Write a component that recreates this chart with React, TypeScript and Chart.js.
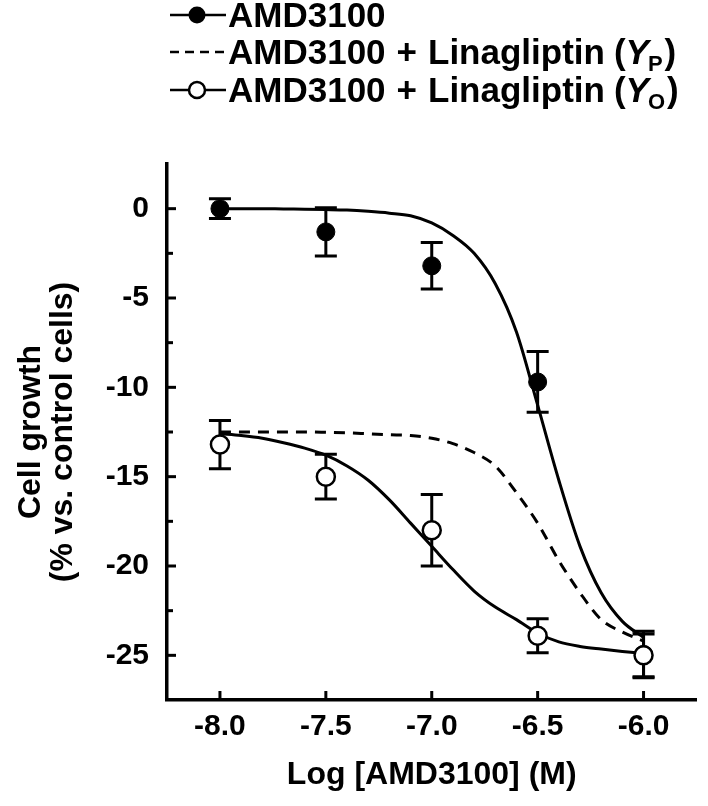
import React, { useEffect, useRef } from "react";
import { Chart, registerables } from "chart.js";

Chart.register(...registerables);

// Measured points (mean ± SEM)
const doseX = [-8.0, -7.5, -7.0, -6.5, -6.0];
const amdMean = [0, -1.3, -3.2, -9.7, -24.95];
const amdErr = [0.55, 1.35, 1.3, 1.7, 1.3];
const comboMean = [-13.2, -15.0, -18.0, -23.9, -25.0];
const comboErr = [1.35, 1.25, 2.0, 0.95, 1.2];

// Fitted curves
const curveX = [-8.0, -7.9, -7.8, -7.7, -7.6, -7.5, -7.4, -7.3, -7.2, -7.1, -7.0, -6.9, -6.8, -6.7, -6.6, -6.5, -6.4, -6.3, -6.2, -6.1, -6.0];
const amdFit = [0, 0, 0, -0.02, -0.03, -0.05, -0.08, -0.15, -0.25, -0.4, -0.8, -1.5, -2.5, -4.2, -6.9, -11.0, -15.2, -18.9, -21.5, -23.1, -24.0];
const predictedFit = [-12.5, -12.5, -12.5, -12.5, -12.5, -12.52, -12.55, -12.6, -12.65, -12.7, -12.85, -13.15, -13.65, -14.4, -15.9, -17.6, -19.7, -21.5, -23.0, -23.7, -24.2];
const observedFit = [-12.6, -12.7, -12.85, -13.1, -13.4, -13.8, -14.4, -15.2, -16.3, -17.6, -18.9, -20.2, -21.4, -22.3, -23.0, -23.75, -24.25, -24.5, -24.65, -24.78, -24.9];

const xTicks = [-8.0, -7.5, -7.0, -6.5, -6.0];
const yTicks = [0, -5, -10, -15, -20, -25];
const yMinorTicks = [-2.5, -7.5, -12.5, -17.5, -22.5];

const xTitle = "Log [AMD3100] (M)";
const yTitle = ["Cell growth", "(% vs. control cells)"];
const legendMain = "AMD3100";
const legendWords = ["AMD3100", "+", "Linagliptin", "("];
const legendSubs = ["P", "O"];

const FONT = '"Liberation Sans", Arial, Helvetica, sans-serif';

const errorBarPlugin = {
  id: "errorBars",
  beforeDatasetsDraw(chart: any) {
    const ctx = chart.ctx;
    const xs = chart.scales.x;
    const ys = chart.scales.y;
    const { left, bottom } = chart.chartArea;
    ctx.save();
    ctx.strokeStyle = "#000";
    ctx.lineWidth = 3;
    // inward tick marks
    yTicks.forEach((v) => {
      const py = ys.getPixelForValue(v);
      ctx.beginPath();
      ctx.moveTo(left, py);
      ctx.lineTo(left + 9, py);
      ctx.stroke();
    });
    yMinorTicks.forEach((v) => {
      const py = ys.getPixelForValue(v);
      ctx.beginPath();
      ctx.moveTo(left, py);
      ctx.lineTo(left + 6, py);
      ctx.stroke();
    });
    xTicks.forEach((v) => {
      const px = xs.getPixelForValue(v);
      ctx.beginPath();
      ctx.moveTo(px, bottom);
      ctx.lineTo(px, bottom - 9);
      ctx.stroke();
    });
    // error bars
    const drawSet = (means: number[], errs: number[]) => {
      means.forEach((m, i) => {
        const px = xs.getPixelForValue(doseX[i]);
        const pt = ys.getPixelForValue(m + errs[i]);
        const pb = ys.getPixelForValue(m - errs[i]);
        ctx.beginPath();
        ctx.moveTo(px, pt);
        ctx.lineTo(px, pb);
        ctx.moveTo(px - 11, pt);
        ctx.lineTo(px + 11, pt);
        ctx.moveTo(px - 11, pb);
        ctx.lineTo(px + 11, pb);
        ctx.stroke();
      });
    };
    drawSet(amdMean, amdErr);
    drawSet(comboMean, comboErr);
    ctx.restore();
  },
};

const legendPlugin = {
  id: "customLegend",
  afterDraw(chart: any) {
    const ctx = chart.ctx;
    ctx.save();
    ctx.strokeStyle = "#000";
    ctx.fillStyle = "#000";
    ctx.lineWidth = 2.5;
    const x0 = 170;
    const x1 = 226;
    const xm = 197;
    const tx = 228;
    const rows = [15, 52, 90];
    const big = `bold 35px ${FONT}`;
    const bigItalic = `italic bold 35px ${FONT}`;
    const small = `bold 22px ${FONT}`;

    // row 1
    ctx.beginPath();
    ctx.moveTo(x0, rows[0]);
    ctx.lineTo(x1, rows[0]);
    ctx.stroke();
    ctx.beginPath();
    ctx.arc(xm, rows[0], 8.5, 0, Math.PI * 2);
    ctx.fill();

    // row 2 dashed
    ctx.setLineDash([9, 6]);
    ctx.beginPath();
    ctx.moveTo(x0, rows[1]);
    ctx.lineTo(x1, rows[1]);
    ctx.stroke();
    ctx.setLineDash([]);

    // row 3 open marker
    ctx.beginPath();
    ctx.moveTo(x0, rows[2]);
    ctx.lineTo(x1, rows[2]);
    ctx.stroke();
    ctx.beginPath();
    ctx.arc(xm, rows[2], 8, 0, Math.PI * 2);
    ctx.fillStyle = "#fff";
    ctx.fill();
    ctx.stroke();
    ctx.fillStyle = "#000";

    ctx.textBaseline = "alphabetic";
    ctx.textAlign = "left";
    const base = (c: number) => c + 12;

    ctx.font = big;
    ctx.fillText(legendMain, tx, base(rows[0]));

    const gaps = [11, 11, 9];
    const drawCombo = (c: number, sub: string) => {
      let x = tx;
      ctx.font = big;
      legendWords.forEach((w, i) => {
        ctx.fillText(w, x, base(c));
        x += ctx.measureText(w).width;
        if (i < gaps.length) x += gaps[i];
      });
      ctx.font = bigItalic;
      ctx.fillText("Y", x, base(c));
      x += ctx.measureText("Y").width - 1;
      ctx.font = small;
      ctx.fillText(sub, x, base(c) + 7);
      x += ctx.measureText(sub).width + 2;
      ctx.font = big;
      ctx.fillText(")", x, base(c));
    };
    drawCombo(rows[1], legendSubs[0]);
    drawCombo(rows[2], legendSubs[1]);
    ctx.restore();
  },
};

export default function App() {
  const canvasRef = useRef<HTMLCanvasElement | null>(null);

  useEffect(() => {
    const canvas = canvasRef.current;
    if (!canvas) return;
    const pts = (xs: number[], ys: number[]) => xs.map((x, i) => ({ x, y: ys[i] }));
    const tickFont = { family: FONT, size: 30, weight: "bold" as const };
    const titleFont = { family: FONT, size: 32, weight: "bold" as const };

    const chart = new Chart(canvas, {
      type: "line",
      data: {
        datasets: [
          {
            label: "AMD3100",
            data: pts(doseX, amdMean),
            showLine: false,
            pointRadius: 9,
            pointBackgroundColor: "#000",
            pointBorderColor: "#000",
            pointBorderWidth: 1,
            order: 1,
          },
          {
            label: "AMD3100 + Linagliptin (Yo)",
            data: pts(doseX, comboMean),
            showLine: false,
            pointRadius: 9,
            pointBackgroundColor: "#fff",
            pointBorderColor: "#000",
            pointBorderWidth: 2.5,
            order: 0,
          },
          {
            label: "AMD3100 fit",
            data: pts(curveX, amdFit),
            borderColor: "#000",
            borderWidth: 3,
            pointRadius: 0,
            cubicInterpolationMode: "monotone",
            fill: false,
            order: 5,
          },
          {
            label: "AMD3100 + Linagliptin (Yp)",
            data: pts(curveX, predictedFit),
            borderColor: "#000",
            borderWidth: 3,
            borderDash: [11, 8],
            pointRadius: 0,
            cubicInterpolationMode: "monotone",
            fill: false,
            order: 6,
          },
          {
            label: "AMD3100 + Linagliptin (Yo) fit",
            data: pts(curveX, observedFit),
            borderColor: "#000",
            borderWidth: 3,
            pointRadius: 0,
            cubicInterpolationMode: "monotone",
            fill: false,
            order: 7,
          },
        ],
      },
      options: {
        animation: false,
        responsive: false,
        devicePixelRatio: 1,
        layout: { padding: { top: 164, right: 4, bottom: 0, left: 0 } },
        plugins: {
          legend: { display: false },
          tooltip: { enabled: false },
        },
        scales: {
          x: {
            type: "linear",
            min: -8.25,
            max: -5.75,
            afterBuildTicks: (s: any) => {
              s.ticks = xTicks.map((v) => ({ value: v }));
            },
            afterFit: (s: any) => {
              s.height = 106;
            },
            grid: { display: false },
            border: { display: true, color: "#000", width: 3.5 },
            ticks: {
              color: "#000",
              font: tickFont,
              padding: 1,
              autoSkip: false,
              maxRotation: 0,
              callback: (v: any) => Number(v).toFixed(1),
            },
            title: {
              display: true,
              text: xTitle,
              color: "#000",
              font: titleFont,
              padding: { top: 0, bottom: 12 },
            },
          },
          y: {
            type: "linear",
            min: -27.5,
            max: 2.5,
            afterBuildTicks: (s: any) => {
              s.ticks = yTicks.map((v) => ({ value: v }));
            },
            afterFit: (s: any) => {
              s.width = 167;
            },
            grid: { display: false },
            border: { display: true, color: "#000", width: 3.5 },
            ticks: {
              color: "#000",
              font: tickFont,
              padding: 10,
              autoSkip: false,
              callback: (v: any) => String(v),
            },
            title: {
              display: true,
              text: yTitle,
              color: "#000",
              font: { ...titleFont, lineHeight: 1.0 },
              padding: { top: 15, bottom: 0 },
            },
          },
        },
      },
      plugins: [errorBarPlugin, legendPlugin],
    });
    return () => chart.destroy();
  }, []);

  return (
    <div style={{ position: "fixed", left: 0, top: 0, width: 708, height: 806, background: "#fff" }}>
      <canvas ref={canvasRef} width={708} height={806} style={{ display: "block", width: 708, height: 806 }} />
    </div>
  );
}
